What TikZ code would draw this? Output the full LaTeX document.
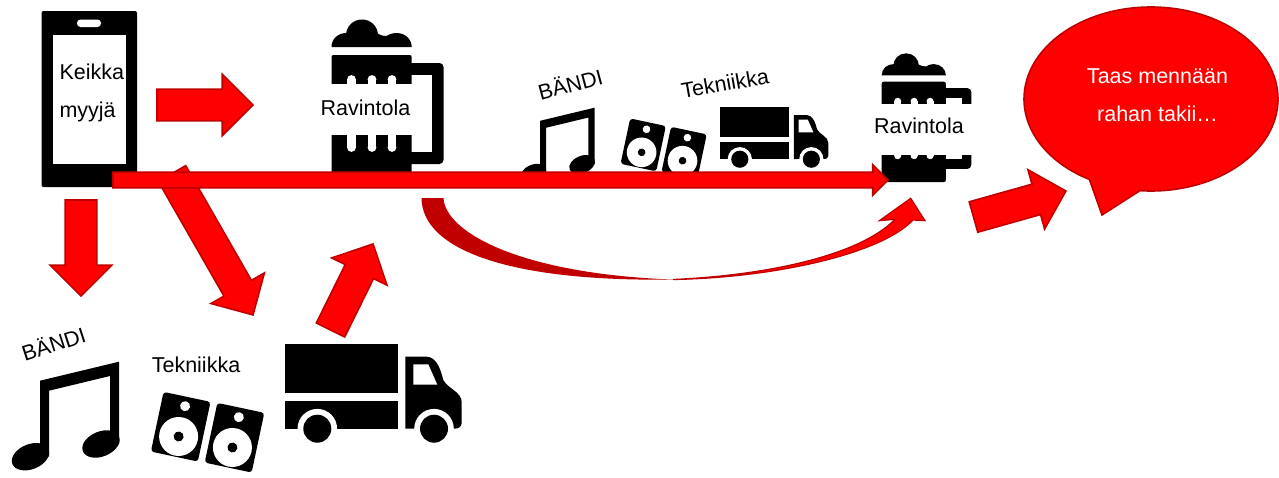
\documentclass[tikz,border=0pt]{standalone}
\usepackage{fontspec}
\setmainfont{Liberation Sans}
\usetikzlibrary{shapes.arrows,shapes.callouts,positioning}
\definecolor{edgered}{HTML}{C00000}

\tikzset{
  mug/.pic={
    \fill[black,rounded corners=4pt] (70,43.5) rectangle (112,144.5);
    \fill[white] (70,55.5) rectangle (100.5,132.2);
    \fill (0,27.5) .. controls (0,19) and (7,13.5) .. (15,13.5) -- (45,13.5) .. controls (48,15) and (52,17) .. (55,16.5) .. controls (58,14.5) and (62,13.5) .. (65,13.5) .. controls (74,13.5) and (80.2,20) .. (80.2,27.5) -- cycle;
    \fill (14.5,16) .. controls (14.5,7) and (21.5,0) .. (30.5,0) .. controls (39.5,0) and (46.5,7) .. (46.5,16) -- cycle;
    \fill[rounded corners=2pt] (0,35.5) -- (80.2,35.5) -- (80.2,161) -- (0,161) -- cycle;
    \foreach \sx in {20,40.5,60.5} {
      \fill[white] (\sx-4.4,60) rectangle (\sx+4.4,128);
      \fill[white] (\sx,60) circle (4.4);
      \fill[white] (\sx,128) circle (4.4);
    }
  },
  note/.pic={
    \fill (28,19) -- (107,0) -- (107,82) -- (98,82) -- (98,14.3) -- (37,29) -- (37,95) -- (28,95) -- cycle;
    \fill[rotate around={22:(18.5,95)}] (18.5,95) ellipse (19.5 and 12.5);
    \fill[rotate around={22:(89,82.3)}] (89,82.3) ellipse (19.5 and 12.5);
  },
  speakers/.pic={
    \foreach \cx/\cy in {0/0,53.8/11} {
      \begin{scope}[shift={(\cx,\cy)},rotate=-12]
        \fill[rounded corners=3pt] (-24,-30.5) rectangle (24,30.5);
        \fill[white] (0,-21) circle (5);
        \fill[white] (0,10) circle (19.5);
        \fill (0,10) circle (5);
      \end{scope}
    }
  },
  truck/.pic={
    \fill (0,0) rectangle (113,49);
    \fill (0,56.7) rectangle (113,84.7);
    \fill (120.3,84.7) -- (120.3,12.7) -- (141.7,12.7) .. controls (150,13) and (155,22) .. (158.3,36) .. controls (162,44) and (176.7,48) .. (176.7,58) -- (176.7,79) .. controls (176.7,82) and (174,84.7) .. (170,84.7) -- cycle;
    \fill[white] (128.3,20.3) -- (143.3,20.3) -- (152.3,40.7) -- (128.3,40.7) -- cycle;
    \fill[white] (32.3,84.7) circle (19.8);
    \fill[white] (149,84.7) circle (19.8);
    \fill[white] (10,84.7) rectangle (55,100);
    \fill[white] (125,84.7) rectangle (172,100);
    \fill (32.3,84.7) circle (14);
    \fill (149,84.7) circle (14);
  },
}

\begin{document}
\begin{tikzpicture}[
  x=1pt,y=-1pt,
  txt/.style={font=\fontsize{21.5}{38}\selectfont,inner sep=0pt,outer sep=0pt},
  mugband/.style={txt,fill=white,minimum height=51.5pt,align=left,inner sep=4.7pt},
  blockarrow/.style={single arrow,draw=edgered,fill=red,line width=1.6pt,inner xsep=0pt,inner ysep=15pt,outer sep=0pt,anchor=tail,
    minimum height=96pt,single arrow head extend=15pt},
]
\useasboundingbox (0,0) rectangle (1279,477);
% phone
\fill[rounded corners=2pt] (41.5,11) rectangle (137,187);
\fill[white] (53.3,35) rectangle (125.6,163.5);
\fill[white,rounded corners=3.5pt] (77,19.5) rectangle (101,27);
\node[txt,align=left,anchor=west] (seller) at (59.5,92.5) {Keikka\\myyjä};

% mugs
\pic at (331.5,19.5) {mug};
\node[mugband,text width=106.6pt,anchor=west,text depth=3.6pt] (pub) at (316,109.3) {Ravintola};
\pic[scale=.8] at (881.7,53.3) {mug};
\node[mugband,text width=95.6pt,anchor=west,text depth=7pt] (pub2) at (869.5,129.5) {Ravintola};

% lower row
\pic at (12,361.7) {note};
\node[txt,rotate=18] (band) at (53.3,343) {BÄNDI};
\pic at (180.7,426.7) {speakers};
\node[txt] (tech) at (196,365) {Tekniikka};
\pic at (285,344) {truck};

% upper row
\pic[scale=.69] at (520.7,107.7) {note};
\node[txt,rotate=15] (band2) at (570,83.3) {BÄNDI};
\pic[scale=.76] at (643.2,144.9) {speakers};
\node[txt,rotate=10] (tech2) at (725,83.3) {Tekniikka};
\pic[scale=.613] at (720,107.3) {truck};

% bubble
\node[ellipse callout,draw=edgered,fill=red,line width=1.6pt,minimum width=254pt,minimum height=184pt,inner sep=0pt,outer sep=0pt,
  callout absolute pointer={(1102,215)},callout pointer arc=24] (bubble) at (1151,99) {};
\node[txt,align=center,text=white] (said) at (1157.5,95) {Taas mennään\\rahan takii…};

% arrows
\node[blockarrow] (a1) at (157,105) {};
\node[blockarrow,rotate=-90] (a2) at (81,200) {};
\node[blockarrow,rotate=-60.2,minimum height=163pt] (a3) at (172,173.5) {};
\node[blockarrow,rotate=63.7] (a4) at (330.5,330) {};
\node[blockarrow,rotate=15.7] (a5) at (973.5,217) {};
\node[blockarrow,inner ysep=7pt,minimum height=775pt,single arrow head extend=7.5pt] (a6) at (113,180) {};

% curved arrow
\fill[edgered] (421.5,198) .. controls (422,250) and (510,282) .. (673,279.5) .. controls (520,274) and (445,232) .. (443.5,198) -- cycle;
\draw[edgered,fill=red,line width=1.2pt,line join=miter] (673,279.5) .. controls (770,278) and (880,255) .. (913,220) -- (925,220.7) -- (910.7,198.3) -- (879.3,220.7) -- (895,219.3) .. controls (860,255) and (770,275) .. (673,279.5) -- cycle;
\end{tikzpicture}
\end{document}
